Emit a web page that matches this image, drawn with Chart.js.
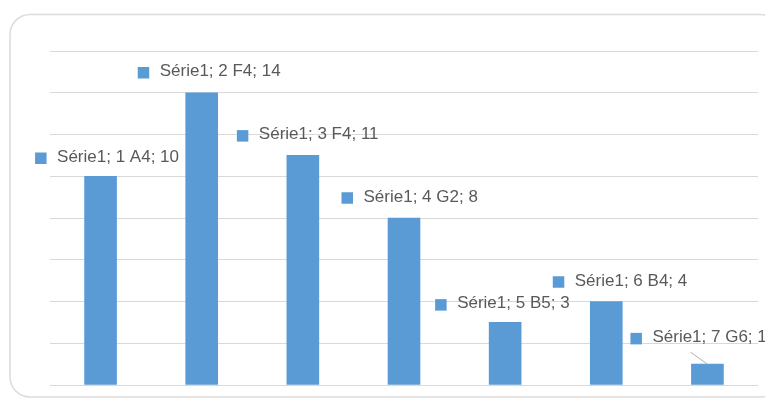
<!DOCTYPE html>
<html>
<head>
<meta charset="utf-8">
<script src="https://cdn.jsdelivr.net/npm/chart.js@4/dist/chart.umd.min.js"></script>
<style>
  html, body { margin: 0; padding: 0; background: #ffffff; }
  #wrap { width: 765px; height: 400px; position: relative; }
</style>
</head>
<body>
<div id="wrap"><canvas id="c" width="765" height="400"></canvas></div>
<script>
// Chart data
const seriesName = 'Série1';
const categories = ['1 A4', '2 F4', '3 F4', '4 G2', '5 B5', '6 B4', '7 G6'];
const values = [10, 14, 11, 8, 3, 4, 1];
const yTicks = [0, 2, 4, 6, 8, 10, 12, 14, 16];

const BAR_COLOR = '#5B9BD5';
const TEXT_COLOR = '#595959';

// Rounded frame around the whole chart
const framePlugin = {
  id: 'frame',
  beforeDraw(chart) {
    const ctx = chart.ctx;
    ctx.save();
    ctx.fillStyle = '#ffffff';
    ctx.fillRect(0, 0, chart.width, chart.height);
    ctx.beginPath();
    ctx.roundRect(10, 14.5, 770, 382.5, 20);
    ctx.strokeStyle = '#dcdcdc';
    ctx.lineWidth = 1.5;
    ctx.stroke();
    ctx.restore();
  }
};

// Data labels: legend key square + "series; category; value" near each bar top
const labelPlugin = {
  id: 'barLabels',
  afterDatasetsDraw(chart, args, opts) {
    const ctx = chart.ctx;
    const meta = chart.getDatasetMeta(0);
    ctx.save();
    ctx.font = opts.font;
    ctx.textBaseline = 'alphabetic';
    ctx.textAlign = 'left';
    meta.data.forEach((bar, i) => {
      const text = seriesName + '; ' + categories[i] + '; ' + values[i];
      const box = 11.5, gap = 10.5;
      const off = opts.offsets[i];
      const left = bar.x + off[0];
      const cy = bar.y + off[1];
      ctx.fillStyle = BAR_COLOR;
      ctx.fillRect(left, cy - box / 2, box, box);
      ctx.fillStyle = TEXT_COLOR;
      ctx.fillText(text, left + box + gap, cy + 3.5);
      if (opts.leaders[i]) {
        ctx.beginPath();
        ctx.moveTo(left + 60, cy + 13.5);
        ctx.lineTo(bar.x, bar.y);
        ctx.strokeStyle = '#b0b0b0';
        ctx.lineWidth = 1;
        ctx.stroke();
      }
    });
    ctx.restore();
  }
};

new Chart(document.getElementById('c'), {
  type: 'bar',
  data: {
    labels: categories,
    datasets: [{
      label: seriesName,
      data: values,
      backgroundColor: BAR_COLOR,
      borderWidth: 0,
      barThickness: 32
    }]
  },
  options: {
    responsive: false,
    animation: false,
    layout: { padding: { left: 50, right: 7, top: 51, bottom: 15 } },
    plugins: {
      legend: { display: false },
      tooltip: { enabled: false },
      barLabels: {
        font: '17px "Liberation Sans", Arial, sans-serif',
        offsets: [[-65.5, -18], [-64, -20], [-66, -19.5], [-62.5, -20], [-70, -17.5], [-53.5, -19.5], [-77, -25.5]],
        leaders: [false, false, false, false, false, false, true]
      }
    },
    scales: {
      x: { display: false },
      y: {
        min: yTicks[0],
        max: yTicks[yTicks.length - 1],
        afterBuildTicks(scale) { scale.ticks = yTicks.map(v => ({ value: v })); },
        ticks: { display: false },
        border: { display: false },
        grid: { color: '#d9d9d9', lineWidth: 1, drawTicks: false }
      }
    }
  },
  plugins: [framePlugin, labelPlugin]
});
</script>
</body>
</html>
